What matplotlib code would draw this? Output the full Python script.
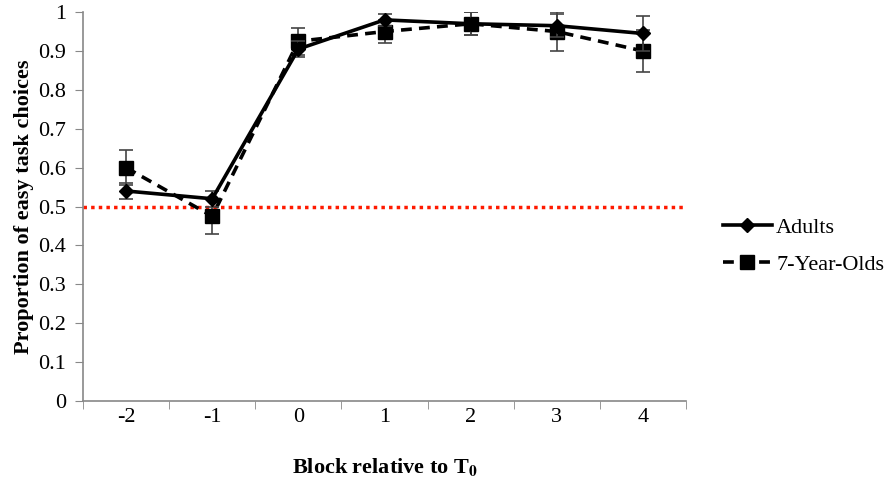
import matplotlib
matplotlib.use("Agg")
import matplotlib.pyplot as plt
from matplotlib.lines import Line2D
import numpy as np

blocks = ["-2", "-1", "0", "1", "2", "3", "4"]
adults = [0.54, 0.52, 0.905, 0.98, 0.97, 0.965, 0.945]
adults_err = [0.02, 0.02, 0.02, 0.015, 0.03, 0.03, 0.045]
kids = [0.60, 0.475, 0.925, 0.95, 0.97, 0.95, 0.90]
kids_err = [0.045, 0.045, 0.035, 0.03, 0.03, 0.05, 0.055]
chance = 0.5

plt.rcParams['font.family'] = ['Liberation Serif', 'DejaVu Serif']
plt.rcParams['mathtext.fontset'] = 'stix'

fig = plt.figure(figsize=(8.88, 4.84), dpi=100)
ax = fig.add_axes([0.0935, 0.1715, 0.679, 0.8035])

x = np.arange(len(blocks))
ax.axhline(chance, color='#ff1a00', linestyle=(0, (1, 1.2)), linewidth=2.5, zorder=1)

ax.errorbar(x, adults, yerr=adults_err, fmt='-D', color='black', markersize=7,
            linewidth=2.6, ecolor='#444444', elinewidth=1.2, capsize=5, capthick=1.2,
            zorder=3)
ax.errorbar(x, kids, yerr=kids_err, fmt='--s', color='black', markersize=10,
            linewidth=2.6, dashes=(3, 2), ecolor='#444444', elinewidth=1.2, capsize=5,
            capthick=1.2, zorder=2)

ax.set_xlim(-0.5, len(blocks) - 0.5)
ax.set_ylim(0, 1)
ax.set_yticks(np.arange(0, 1.01, 0.1))
ax.set_yticklabels(['0', '0.1', '0.2', '0.3', '0.4', '0.5', '0.6', '0.7', '0.8', '0.9', '1'])
ax.set_xticks(x)
ax.set_xticklabels(blocks)
ax.set_xticks(np.arange(-0.5, len(blocks), 1), minor=True)
ax.tick_params(axis='x', which='major', length=0, pad=5, labelsize=16)
ax.tick_params(axis='x', which='minor', length=6, color='#888888', direction='out')
ax.tick_params(axis='y', length=6, color='#888888', labelsize=16, pad=6)

for side in ['top', 'right']:
    ax.spines[side].set_visible(False)
for side in ['left', 'bottom']:
    ax.spines[side].set_color('#888888')
    ax.spines[side].set_linewidth(1.2)

ax.set_ylabel('Proportion of easy task choices', fontsize=16, fontweight='bold', labelpad=3)
ax.set_xlabel(r'Block relative to T$_\mathbf{0}$', fontsize=16, fontweight='bold', labelpad=21)

handles = [
    Line2D([], [], color='black', marker='D', markersize=7, linewidth=2.6),
    Line2D([], [], color='black', marker='s', markersize=10, linewidth=2.6,
           linestyle='--', dashes=(3, 2)),
]
fig.legend(handles, ['Adults', '7-Year-Olds'], loc='center left',
           bbox_to_anchor=(0.814, 0.492), frameon=False, fontsize=16,
           handlelength=2.2, labelspacing=0.75, handletextpad=0.2,
           borderaxespad=0, borderpad=0)

fig.savefig('out.png', dpi=100)
